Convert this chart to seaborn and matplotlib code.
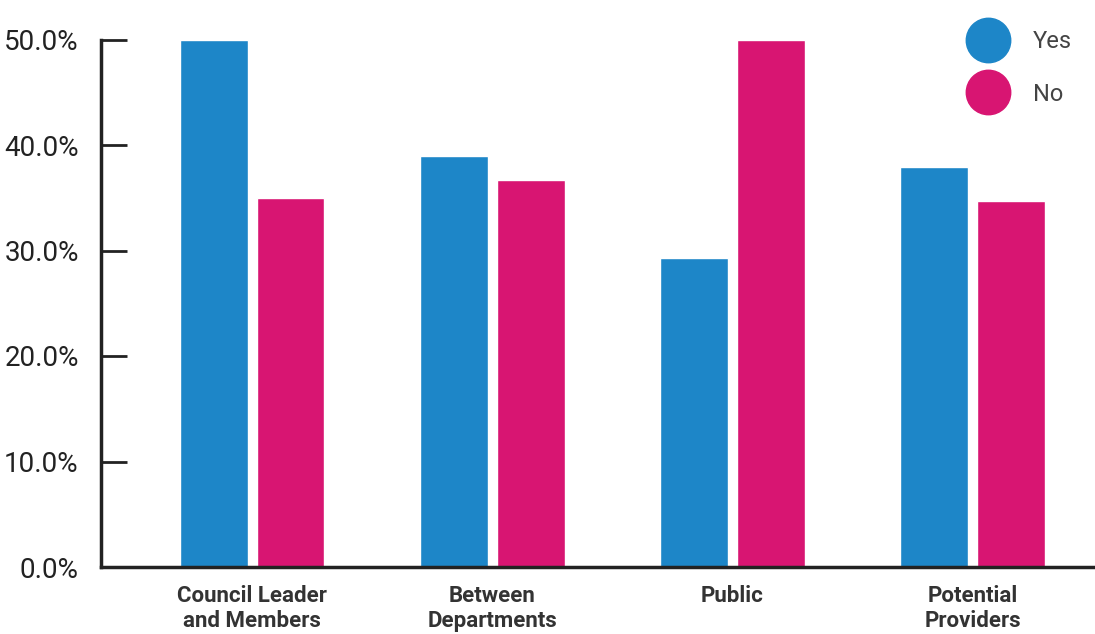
import pandas as pd
import matplotlib
matplotlib.use("Agg")
import matplotlib.pyplot as plt
import matplotlib.ticker as mtick
from matplotlib.lines import Line2D
import seaborn as sns

# Data
categories = ["Council Leader\nand Members", "Between\nDepartments", "Public", "Potential\nProviders"]
yes_values = [50.0, 39.0, 29.3, 37.9]
no_values = [35.0, 36.7, 50.0, 34.7]
series = ["Yes", "No"]

BLUE = "#1D86C8"
PINK = "#D81572"

df = pd.DataFrame({
    "category": categories * 2,
    "answer": ["Yes"] * len(categories) + ["No"] * len(categories),
    "pct": yes_values + no_values,
})

sns.set_theme(style="white")
plt.rcParams["font.family"] = ["Roboto", "DejaVu Sans"]

fig = plt.figure(figsize=(10.95, 6.34), dpi=100)
ax = fig.add_axes([101 / 1095, 67 / 634, 1 - 101 / 1095, (567 - 39.5) / 634])

sns.barplot(data=df, x="category", y="pct", hue="answer", order=categories,
            hue_order=series, palette=[BLUE, PINK], width=0.64, gap=0.12,
            saturation=1, legend=False, ax=ax)

ax.set_ylim(0, 50)
ax.set_xlim(-0.63, 3.51)
ax.yaxis.set_major_locator(mtick.MultipleLocator(10))
ax.yaxis.set_major_formatter(mtick.FormatStrFormatter("%.1f%%"))
ax.set_xlabel("")
ax.set_ylabel("")

for side in ["top", "right"]:
    ax.spines[side].set_visible(False)
for side in ["left", "bottom"]:
    ax.spines[side].set_color("#222222")
    ax.spines[side].set_linewidth(2.5)

ax.tick_params(axis="y", direction="in", length=19, width=2, color="#222222",
               labelsize=20, labelcolor="#222222", pad=16, left=True)
ax.tick_params(axis="x", length=0, pad=13)
for lbl in ax.get_xticklabels():
    lbl.set_fontsize(16)
    lbl.set_fontweight("semibold")
    lbl.set_color("#333333")
    lbl.set_linespacing(1.2)
    lbl.set_verticalalignment("top")

handles = [Line2D([0], [0], marker="o", linestyle="", markersize=32,
                  markerfacecolor=c, markeredgecolor=c) for c in [BLUE, PINK]]
leg = ax.legend(handles, series, loc="upper right", bbox_to_anchor=(0.998, 1.058),
                frameon=False, handletextpad=0.9, labelspacing=1.25,
                prop={"size": 17})
for t in leg.get_texts():
    t.set_color("#444444")

plt.savefig("out.png", dpi=100)
plt.close()
